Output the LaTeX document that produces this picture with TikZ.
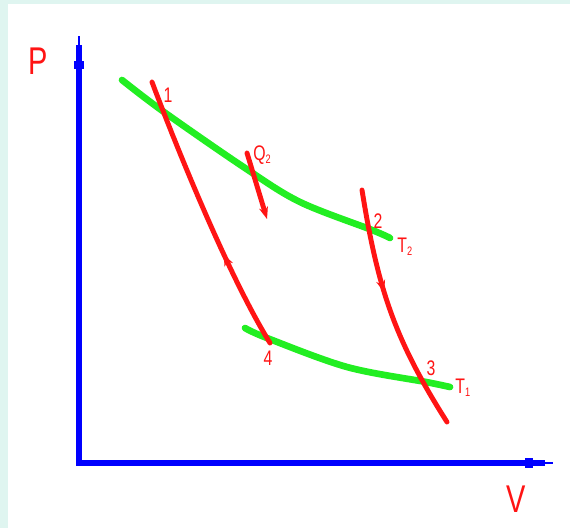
\documentclass[tikz,border=0pt]{standalone}
\usepackage{fontspec}
\setmainfont{Liberation Sans}
\newfontfamily\plotfont[FakeStretch=0.75]{Liberation Sans}
\usetikzlibrary{arrows.meta, decorations.markings}
\definecolor{bgcyan}{HTML}{DFF5F0}
\definecolor{axblue}{HTML}{0000FF}
\definecolor{cyred}{HTML}{FF1414}
\definecolor{isogreen}{HTML}{22EE22}
\newcommand{\tinysub}[1]{\raisebox{-1.5pt}{\fontsize{7}{7}\selectfont #1}}

\begin{document}
\begin{tikzpicture}[x=0.02cm, y=-0.02cm,
  >={Stealth[length=2.4mm, width=1.8mm]},
  axis/.style={draw=axblue, line width=3.2pt, line join=miter},
  axblob/.style={draw=axblue, line width=5.6pt},
  axtip/.style={draw=axblue, line width=1.3pt},
  isotherm/.style={draw=isogreen, line width=3.8pt, line cap=round},
  adiabat/.style={draw=cyred, line width=2.8pt, line cap=round},
  lbl/.style={text=cyred, font=\plotfont\fontsize{12}{12}\selectfont, inner sep=0pt},
  biglbl/.style={text=cyred, font=\plotfont\fontsize{22}{22}\selectfont, inner sep=0pt},
  midarrow/.style={postaction={decorate},
    decoration={markings, mark=at position #1 with {\arrow{>}}}},
]

% Background
\fill[bgcyan] (0,0) rectangle (570,528);
\fill[white] (8,4) rectangle (570,528);

% =============================================
% Axes
% =============================================
\coordinate (O) at (79,463);
\coordinate (yneck) at (79,45);
\coordinate (ytop) at (79,36);
\coordinate (xneck) at (545,463);
\coordinate (xend) at (553,463);

\draw[axis] (xneck) -- (O) -- (yneck);
\draw[axtip] (yneck) -- (ytop);
\draw[axtip] (xneck) -- (xend);
\draw[axblob] (79,61) -- (79,69);
\draw[axblob] (525,463) -- (533,463);

\node[biglbl] (plabel) at (38,61) {P};
\node[biglbl] (vlabel) at (516,499) {V};

% =============================================
% Cycle corners
% =============================================
\coordinate (p1) at (164,112);
\coordinate (p2) at (372,230);
\coordinate (p3) at (426,382);
\coordinate (p4) at (267,338);

% =============================================
% Isotherms (green)
% =============================================
\coordinate (t2a) at (122,80);
\coordinate (t2b) at (245,168);
\coordinate (t2c) at (300,202);
\coordinate (t2d) at (390,238);
\draw[isotherm] plot[smooth, tension=0.55] coordinates {(t2a) (p1) (t2b) (t2c) (p2) (t2d)};

\coordinate (t1a) at (245,328);
\coordinate (t1b) at (347,367);
\coordinate (t1c) at (450,387);
\draw[isotherm] plot[smooth, tension=0.55] coordinates {(t1a) (p4) (t1b) (p3) (t1c)};

% =============================================
% Adiabats (red)
% =============================================
\coordinate (a1) at (152,82);
\coordinate (a4) at (270,343);
\draw[adiabat, midarrow=0.35] (a4) .. controls (225,270) and (170,130) .. (a1);

\coordinate (a2) at (362,190);
\coordinate (a3) at (447,422);
\draw[adiabat, midarrow=0.42] (a2) .. controls (378,290) and (395,340) .. (a3);

% heat arrow
\coordinate (qstart) at (247,153);
\coordinate (qend) at (267,219);
\draw[adiabat, ->] (qstart) -- (qend);

% =============================================
% Labels
% =============================================
\node[lbl] (n1) at (168,95) {1};
\node[lbl] (n2) at (378,221) {2};
\node[lbl] (n3) at (431,368) {3};
\node[lbl] (n4) at (268,358) {4};
\node[lbl, anchor=west] (q2) at (253,155) {Q\tinysub{2}};
\node[lbl, anchor=west] (tt2) at (397,247) {T\tinysub{2}};
\node[lbl, anchor=west] (tt1) at (455,388) {T\tinysub{1}};

\end{tikzpicture}
\end{document}
